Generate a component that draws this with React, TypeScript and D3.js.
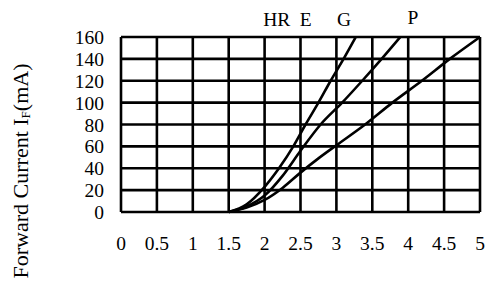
import React from "react";
import * as d3 from "d3";

const xTicks = [0, 0.5, 1, 1.5, 2, 2.5, 3, 3.5, 4, 4.5, 5];
const yTicks = [0, 20, 40, 60, 80, 100, 120, 140, 160];

const hrV = [1.5, 1.75, 2.0, 2.2, 2.4, 2.57, 2.75, 2.92, 3.1, 3.27];
const hrI = [0, 7, 23, 40, 60, 80, 100, 120, 140, 160];
const gV = [1.5, 1.75, 2.0, 2.25, 2.5, 2.78, 3.08, 3.36, 3.63, 3.89];
const gI = [0, 5, 15, 33, 56, 80, 100, 120, 140, 160];
const pV = [1.5, 1.75, 2.0, 2.25, 2.5, 2.75, 3.0, 3.4, 3.78, 4.19, 4.58, 5.0];
const pI = [0, 4, 11, 22, 36, 49, 61, 80, 100, 120, 140, 160];

const topLabels = ["HR", "E", "G", "P"];
const topLabelV = [1.98, 2.49, 3.01, 3.99];

const FONT = "Liberation Serif";

export default function App() {
  const W = 491, H = 284;
  const x = d3.scaleLinear().domain([0, 5]).range([121, 480]);
  const y = d3.scaleLinear().domain([0, 160]).range([212, 37]);
  const line = d3
    .line<[number, number]>()
    .x((d) => x(d[0]))
    .y((d) => y(d[1]))
    .curve(d3.curveMonotoneX);
  const series = [
    hrV.map((v, i) => [v, hrI[i]] as [number, number]),
    gV.map((v, i) => [v, gI[i]] as [number, number]),
    pV.map((v, i) => [v, pI[i]] as [number, number]),
  ];
  const ts = { fontFamily: FONT };
  return (
    <svg
      width={W}
      height={H}
      style={{ position: "absolute", left: 0, top: 0, background: "#fff" }}
    >
      <rect x={0} y={0} width={W} height={H} fill="#fff" />
      {xTicks.map((t) => (
        <line key={"vx" + t} x1={x(t)} x2={x(t)} y1={y(0)} y2={y(160)} stroke="#000" strokeWidth={2.6} />
      ))}
      {yTicks.map((t) => (
        <line key={"hy" + t} x1={x(0)} x2={x(5)} y1={y(t)} y2={y(t)} stroke="#000" strokeWidth={2.6} />
      ))}
      {series.map((s, i) => (
        <path key={"s" + i} d={line(s) || ""} fill="none" stroke="#000" strokeWidth={2.6} />
      ))}
      {yTicks.map((t) => (
        <text key={"yl" + t} x={104} y={y(t) + 7} textAnchor="end" fontSize={19.5} fill="#000" style={ts}>
          {t}
        </text>
      ))}
      {xTicks.map((t) => (
        <text key={"xl" + t} x={x(t)} y={250} textAnchor="middle" fontSize={19.5} fill="#000" style={ts}>
          {t}
        </text>
      ))}
      {topLabels.map((l, i) => (
        <text key={"tl" + l} x={x(topLabelV[i])} y={l === "P" ? 24 : 26} fontSize={19.5} fill="#000" style={ts}>
          {l}
        </text>
      ))}
      <text
        transform="translate(28,171) rotate(-90)"
        textAnchor="middle"
        fontSize={22}
        fill="#000"
        style={ts}
      >
        Forward Current I
        <tspan fontSize={13} dy={2}>F</tspan>
        <tspan dy={-2}>(mA)</tspan>
      </text>
    </svg>
  );
}
